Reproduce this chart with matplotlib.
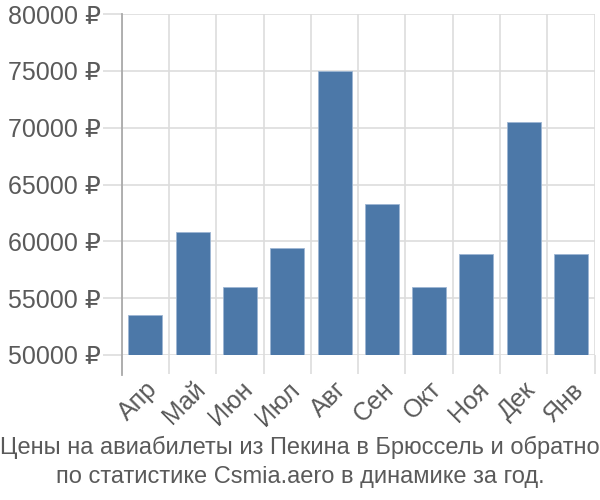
import matplotlib.pyplot as plt
import numpy as np

plt.rcParams['font.family'] = ['Liberation Sans', 'DejaVu Sans']

# données
mois = ['Апр', 'Май', 'Июн', 'Июл', 'Авг', 'Сен', 'Окт', 'Ноя', 'Дек', 'Янв']
prix = [53500, 60800, 56000, 59400, 75000, 63300, 56000, 58900, 70500, 58900]
yticks = [50000, 55000, 60000, 65000, 70000, 75000, 80000]
titre = "Цены на авиабилеты из Пекина в Брюссель и обратно\nпо статистике Csmia.aero в динамике за год."

fig = plt.figure(figsize=(6, 5), dpi=100)
ax = fig.add_axes([0.203, 0.29, 0.788, 0.682])

x = np.arange(len(mois))
ax.bar(x, prix, width=0.72, color='#4c78a8', edgecolor='#9db6d3', linewidth=0.6, zorder=3)

ax.set_xlim(-0.5, len(mois) - 0.5)
ax.set_ylim(50000, 80000)

# grille
ax.set_yticks(yticks)
ax.set_yticklabels([f"{v} ₽" for v in yticks])
ax.set_xticks(np.arange(len(mois) + 1) - 0.5, minor=False)
ax.set_xticklabels([])
ax.set_xticks(x, minor=True)
ax.set_xticklabels(mois, minor=True, rotation=45, ha='right', va='top',
                   rotation_mode='anchor', fontsize=18, color='#5a5a5a')
ax.tick_params(axis='x', which='minor', length=0, pad=16)
ax.tick_params(axis='x', which='major', length=14, color='#dddddd', width=1.2)
ax.tick_params(axis='y', length=14, color='#dddddd', width=1.2, labelsize=18,
               labelcolor='#5a5a5a', pad=1)
ax.grid(True, which='major', color='#dddddd', linewidth=1.2, zorder=0)

for s in ['top', 'right', 'bottom', 'left']:
    ax.spines[s].set_visible(False)
ax.plot([0, 0], [-0.06, 1], transform=ax.transAxes, clip_on=False,
        color='#aaaaaa', linewidth=1.3, zorder=4)

fig.text(0.5, 0.076, titre, ha='center', va='center', fontsize=17,
         color='#5a5a5a', linespacing=1.38)

fig.savefig('out.png', dpi=100)
